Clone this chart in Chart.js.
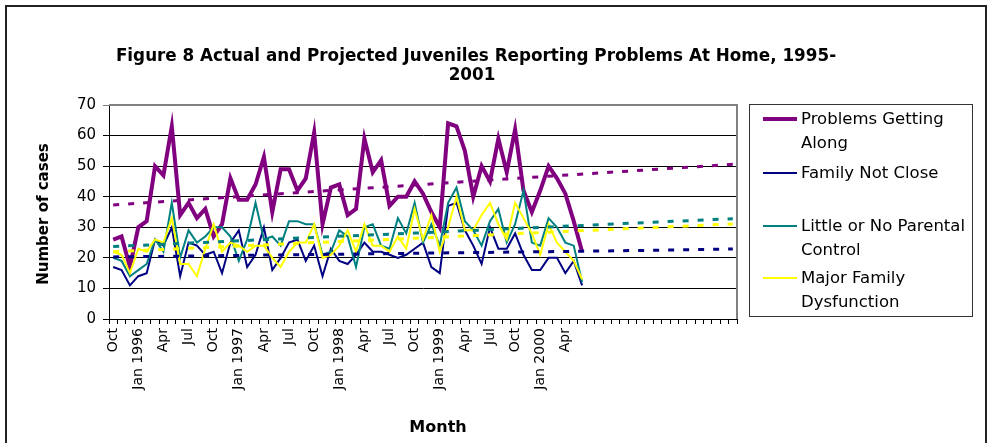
<!DOCTYPE html>
<html>
<head>
<meta charset="utf-8">
<script src="https://cdn.jsdelivr.net/npm/chart.js@4.4.1/dist/chart.umd.min.js"></script>
<style>
  html, body { margin: 0; padding: 0; background: #fff; }
  #wrap { position: relative; width: 990px; height: 443px; }
</style>
</head>
<body>
<div id="wrap"><canvas id="chart" width="990" height="443"></canvas></div>
<script>
// ---- data (Oct 1995 .. Jun 2000 actual, trend to Dec 2001)
const monthCount = 75;
const quarterLabels = ["Oct", "Jan 1996", "Apr", "Jul", "Oct", "Jan 1997", "Apr", "Jul",
  "Oct", "Jan 1998", "Apr", "Jul", "Oct", "Jan 1999", "Apr", "Jul", "Oct", "Jan 2000", "Apr"];

const seriesNames = ["Problems Getting Along", "Family Not Close",
  "Little or No Parental Control", "Major Family Dysfunction"];

const problemsGettingAlong = [26, 27, 17, 30, 32, 50, 47, 63, 34, 38, 33, 36, 27, 31, 46,
  39, 39, 44, 53, 35, 49, 49, 42, 46, 61, 31, 43, 44, 34, 36, 59, 48, 52, 37, 40, 40, 45,
  41, 35, 30, 64, 63, 55, 40, 50, 45, 59, 48, 62, 42, 35, 42, 50, 46, 41, 32, 22];
const familyNotClose = [17, 16, 11, 14, 15, 26, 24, 30, 14, 25, 24, 21, 22, 15, 25,
  29, 17, 21, 30, 16, 20, 25, 26, 19, 24, 14, 23, 19, 18, 21, 25, 22, 22, 21, 20, 21, 23,
  25, 17, 15, 37, 38, 29, 24, 18, 30, 23, 23, 28, 21, 16, 16, 20, 20, 15, 19, 11];
const parentalControl = [20, 19, 14, 16, 18, 26, 22, 38, 20, 29, 25, 27, 30, 30, 27,
  19, 26, 38, 26, 27, 24, 32, 32, 31, 31, 21, 22, 29, 27, 17, 30, 31, 24, 23, 33, 28, 38,
  25, 31, 24, 38, 43, 32, 29, 24, 32, 36, 25, 31, 42, 25, 24, 33, 30, 25, 24, 12];
const familyDysfunction = [22, 21, 15, 23, 22, 26, 25, 33, 18, 18, 14, 23, 31, 22, 25,
  24, 22, 24, 24, 20, 17, 22, 25, 25, 31, 20, 21, 24, 29, 22, 31, 24, 24, 22, 27, 23, 36,
  26, 34, 22, 30, 40, 29, 29, 34, 38, 31, 26, 38, 33, 28, 21, 31, 25, 22, 19, 13];

// projected trend, read at a few months
const projMonths = [0, 12, 24, 36, 48, 60, 74];
const projProblems = [37.3, 39.5, 41.7, 43.8, 46.0, 48.1, 50.6];
const projNotClose = [20.3, 20.7, 21.1, 21.5, 21.9, 22.3, 22.9];
const projControl = [23.7, 25.2, 26.7, 28.1, 29.6, 31.1, 32.8];
const projDysfunction = [22.0, 23.5, 25.0, 26.4, 27.9, 29.4, 31.1];

const seriesColors = ["#800080", "#000080", "#008080", "#ffff00"];
const legendLines = [["Problems Getting", "Along"], ["Family Not Close"],
  ["Little or No Parental", "Control"], ["Major Family", "Dysfunction"]];

// ---- build what the library needs
const labels = [];
for (let i = 0; i < monthCount; i++) {
  labels.push(i % 3 === 0 && i / 3 < quarterLabels.length ? quarterLabels[i / 3] : "");
}

function sparse(values) {
  const out = new Array(monthCount).fill(null);
  projMonths.forEach((m, k) => { out[m] = values[k]; });
  return out;
}

const actual = [problemsGettingAlong, familyNotClose, parentalControl, familyDysfunction];
const projected = [projProblems, projNotClose, projControl, projDysfunction];

const datasets = [];
actual.forEach((vals, k) => {
  datasets.push({
    label: seriesNames[k],
    data: vals,
    borderColor: seriesColors[k],
    borderWidth: k === 0 ? 4 : 2,
    pointRadius: 0,
    tension: 0,
    order: 8 - k
  });
});
projected.forEach((vals, k) => {
  datasets.push({
    label: seriesNames[k] + " (projected)",
    data: sparse(vals),
    borderColor: seriesColors[k],
    borderWidth: 3,
    borderDash: [6, 9],
    pointRadius: 0,
    spanGaps: true,
    order: 4 - k
  });
});

const FONT = '"DejaVu Sans", Arial, sans-serif';

/*
  frame, title, axis titles and legend box
*/
const decorations = {
  id: "decorations",
  beforeDatasetsDraw(chart) {
    const { ctx, chartArea: a } = chart;
    ctx.save();
    ctx.strokeStyle = "#808080";
    ctx.lineWidth = 2;
    ctx.beginPath();
    ctx.moveTo(a.left, a.top);
    ctx.lineTo(a.right, a.top);
    ctx.lineTo(a.right, a.bottom);
    ctx.stroke();
    ctx.restore();
  },
  afterDraw(chart) {
    const { ctx } = chart;
    ctx.save();

    // outer frame
    ctx.strokeStyle = "#222";
    ctx.lineWidth = 2;
    ctx.strokeRect(6, 6, 980, 460);

    // title
    ctx.fillStyle = "#000";
    ctx.textAlign = "center";
    ctx.textBaseline = "middle";
    ctx.font = "bold 16.8px " + FONT;
    ctx.fillText("Figure 8 Actual and Projected Juveniles Reporting Problems At Home, 1995-", 476, 57);
    ctx.fillText("2001", 472, 76);

    // axis titles
    ctx.font = "bold 16px " + FONT;
    ctx.fillText("Month", 438, 428);
    ctx.font = "bold 15px " + FONT;
    ctx.save();
    ctx.translate(44, 214);
    ctx.rotate(-Math.PI / 2);
    ctx.fillText("Number of cases", 0, 0);
    ctx.restore();

    // legend
    ctx.strokeStyle = "#333";
    ctx.lineWidth = 1;
    ctx.strokeRect(749.5, 104.5, 223, 212);
    const rowY = [119, 173, 226, 278];
    ctx.textAlign = "left";
    ctx.font = "16.5px " + FONT;
    legendLines.forEach((lines, k) => {
      ctx.strokeStyle = seriesColors[k];
      ctx.lineWidth = k === 0 ? 4 : 2;
      ctx.beginPath();
      ctx.moveTo(763, rowY[k]);
      ctx.lineTo(797, rowY[k]);
      ctx.stroke();
      ctx.fillStyle = "#000";
      lines.forEach((t, j) => ctx.fillText(t, 801, rowY[k] + 1 + j * 24));
    });

    ctx.restore();
  }
};

new Chart(document.getElementById("chart"), {
  type: "line",
  data: { labels, datasets },
  options: {
    responsive: false,
    animation: false,
    devicePixelRatio: 1,
    layout: { padding: { top: 105, right: 253, left: 0, bottom: 0 } },
    plugins: {
      legend: { display: false },
      tooltip: { enabled: false }
    },
    scales: {
      x: {
        offset: true,
        grid: {
          offset: true,
          drawOnChartArea: false,
          drawTicks: true,
          tickLength: 5,
          color: "#000"
        },
        border: { color: "#000", width: 1 },
        ticks: {
          autoSkip: false,
          maxRotation: 90,
          minRotation: 90,
          padding: 4,
          color: "#000",
          font: { family: FONT, size: 14 }
        },
        afterFit(scale) { scale.height = 124; }
      },
      y: {
        min: 0,
        max: 70,
        ticks: {
          stepSize: 10,
          padding: 7,
          color: "#000",
          font: { family: FONT, size: 15 }
        },
        grid: {
          color: (c) => (c.tick && c.tick.value === 70 ? "#808080" : "#000"),
          tickLength: 6
        },
        border: { color: "#000", width: 1 },
        afterFit(scale) { scale.width = 109; }
      }
    }
  },
  plugins: [decorations]
});
</script>
</body>
</html>
